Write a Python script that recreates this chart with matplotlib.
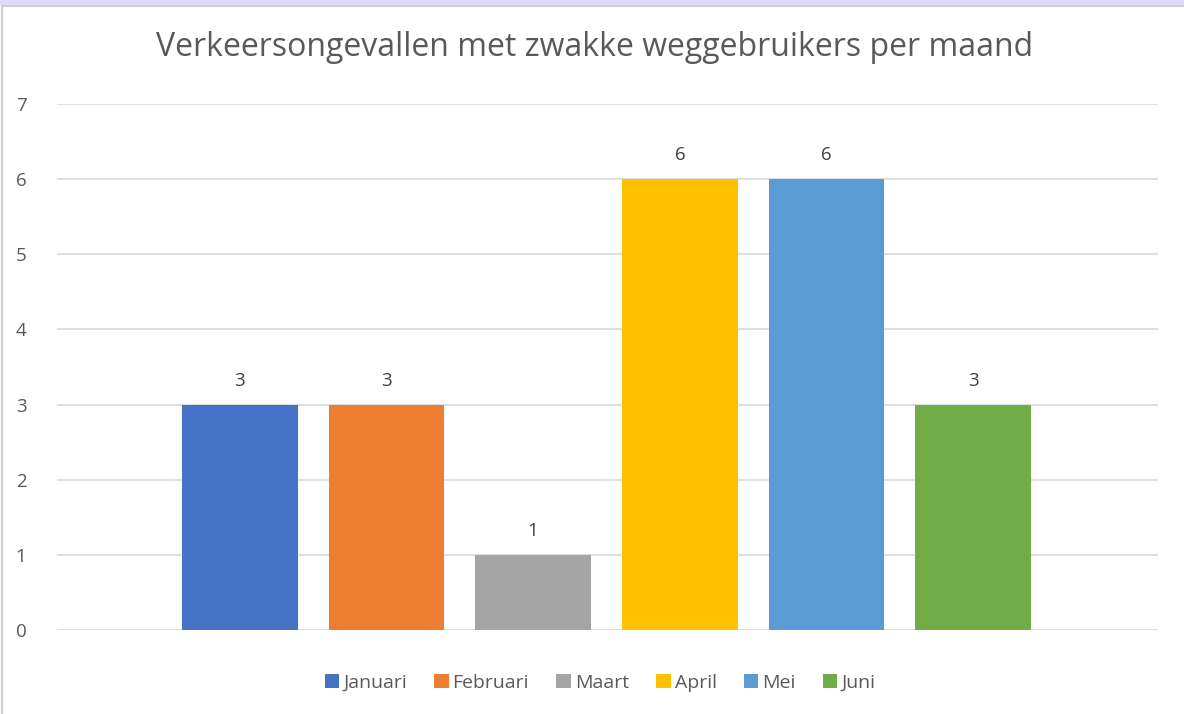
import matplotlib
matplotlib.use('Agg')
from matplotlib import pyplot as plt
from matplotlib.patches import Rectangle
from matplotlib.lines import Line2D

plt.rcParams['font.family'] = ['Open Sans', 'DejaVu Sans']

maanden = ['Januari', 'Februari', 'Maart', 'April', 'Mei', 'Juni']
ongevallen = [3, 3, 1, 6, 6, 3]
kleuren = ['#4472C4', '#ED7D31', '#A5A5A5', '#FFC000', '#5B9BD5', '#70AD47']
yticks = [0, 1, 2, 3, 4, 5, 6, 7]

W, H = 1184, 714
fig = plt.figure(figsize=(W / 100, H / 100), dpi=100)
fig.patch.set_facecolor('white')

# rand van de screenshot (lavendel strook + grijze kader)
fig.patches.append(Rectangle((0, 1 - 5 / H), 1, 5 / H, transform=fig.transFigure,
                             facecolor='#DCDCF8', edgecolor='none'))
fig.lines.append(Line2D([2 / W, 2 / W], [0, 1 - 6 / H], transform=fig.transFigure,
                       color='#D0D0D0', lw=1.5))
fig.lines.append(Line2D([2 / W, 1], [1 - 6 / H, 1 - 6 / H], transform=fig.transFigure,
                       color='#D0D0D0', lw=1.5))

ax = fig.add_axes([57 / W, 1 - 630 / H, (1158 - 57) / W, (630 - 104) / H])
x = list(range(len(maanden)))
bars = ax.bar(x, ongevallen, width=116 / 147, color=kleuren, zorder=3)
for xi, v in zip(x, ongevallen):
    ax.text(xi, v + 0.2, str(v), ha='center', va='bottom', fontsize=13.5, color='#404040')

ax.set_xlim(-1.245, 6.259)
ax.set_ylim(0, 7)
ax.set_yticks(yticks)
ax.set_xticks([])
ax.grid(axis='y', color='#D9D9D9', lw=1.2, zorder=0)
for s in ax.spines.values():
    s.set_visible(False)
ax.tick_params(axis='y', length=0, pad=22, labelsize=13.5, labelcolor='#595959')

fig.text(595 / W, 1 - 48 / H, 'Verkeersongevallen met zwakke weggebruikers per maand',
         ha='center', va='center', fontsize=23, color='#595959')

handles = [Rectangle((0, 0), 1, 1, facecolor=c) for c in kleuren]
fig.legend(handles, maanden, loc='center', bbox_to_anchor=(600 / W, 1 - 683 / H),
           ncol=6, frameon=False, fontsize=14, labelcolor='#595959',
           handlelength=0.75, handleheight=0.75, handletextpad=0.2, columnspacing=1.4)

fig.savefig('out.png', dpi=100)
